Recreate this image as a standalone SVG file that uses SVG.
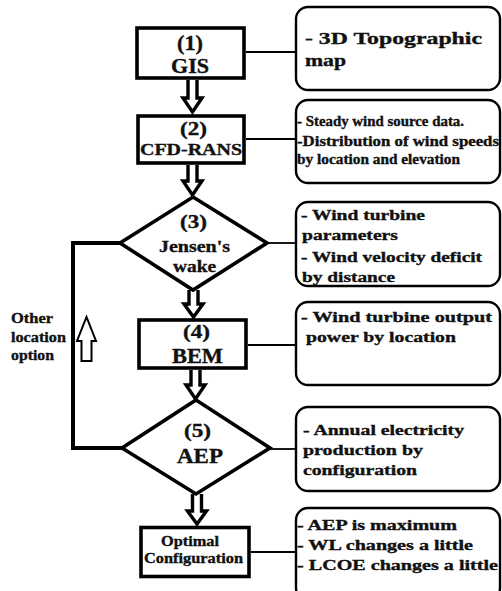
<svg xmlns="http://www.w3.org/2000/svg" width="502" height="591" viewBox="0 0 502 591" font-family="'Liberation Serif', 'Times New Roman', Times, serif" font-weight="bold">
<style>
text{fill:#111;stroke:#111;stroke-width:0.35}
.c{text-anchor:middle}
.box{fill:#fff;stroke:#000;stroke-width:3.6}
.note{fill:#fff;stroke:#000;stroke-width:2.4}
.link{fill:none;stroke:#000;stroke-width:1.8}
.loop{fill:none;stroke:#000;stroke-width:4}
.arr{fill:#fff;stroke:#000;stroke-width:3.4;stroke-linejoin:miter}
.up{fill:#fff;stroke:#000;stroke-width:2}
</style>
<rect width="502" height="591" fill="#fff"/>
<g id="connectors">
<polyline class="loop" points="120,243 73,243 73,448 122,448"/>
<line class="link" x1="246" y1="52" x2="296" y2="52"/>
<line class="link" x1="246" y1="139" x2="296" y2="139"/>
<line class="link" x1="267" y1="243" x2="296" y2="243"/>
<line class="link" x1="248" y1="345" x2="296" y2="345"/>
<line class="link" x1="270" y1="449" x2="296" y2="449"/>
<line class="link" x1="251" y1="552" x2="296" y2="552"/>
<polyline class="arr" points="188,80 188,98 183,98 192.5,112 202,98 197,98 197,80"/>
<polyline class="arr" points="188,165 188,181 183,181 192.5,195 202,181 197,181 197,165"/>
<polyline class="arr" points="189,290 189,304 184,304 193.5,317 203,304 198,304 198,290"/>
<polyline class="arr" points="191,370 191,385 186,385 195.5,399 205,385 200,385 200,370"/>
<polyline class="arr" points="192.5,494 192.5,511 187.5,511 197,524 206.5,511 201.5,511 201.5,494"/>
<polygon class="up" points="81.5,361 81.5,341 77,341 86.5,317 96,341 91.5,341 91.5,361"/>
</g>
<g id="n1">
<rect class="box" x="137" y="28" width="107" height="50"/>
<text class="c" x="190" y="50" font-size="20" textLength="26" lengthAdjust="spacingAndGlyphs">(1)</text>
<text class="c" x="190" y="73" font-size="20" textLength="38" lengthAdjust="spacingAndGlyphs">GIS</text>
</g>
<g id="n2">
<rect class="box" x="138" y="116" width="106" height="47"/>
<text class="c" x="193.5" y="135" font-size="19" textLength="27" lengthAdjust="spacingAndGlyphs">(2)</text>
<text class="c" x="191" y="155" font-size="17" textLength="102" lengthAdjust="spacingAndGlyphs">CFD-RANS</text>
</g>
<g id="n3">
<polygon class="box" points="193,197 267,243 193,290 120,243"/>
<text class="c" x="193.5" y="228" font-size="19" textLength="27" lengthAdjust="spacingAndGlyphs">(3)</text>
<text class="c" x="194.5" y="252" font-size="17" textLength="71" lengthAdjust="spacingAndGlyphs">Jensen's</text>
<text class="c" x="194.5" y="272" font-size="17" textLength="43" lengthAdjust="spacingAndGlyphs">wake</text>
</g>
<g id="n4">
<rect class="box" x="139" y="320" width="107" height="48"/>
<text class="c" x="196.5" y="338" font-size="19" textLength="27" lengthAdjust="spacingAndGlyphs">(4)</text>
<text class="c" x="197.5" y="363" font-size="20" textLength="51" lengthAdjust="spacingAndGlyphs">BEM</text>
</g>
<g id="n5">
<polygon class="box" points="196,400 270,448 196,494 122,448"/>
<text class="c" x="197.5" y="437" font-size="19" textLength="27" lengthAdjust="spacingAndGlyphs">(5)</text>
<text class="c" x="200" y="463" font-size="20" textLength="46" lengthAdjust="spacingAndGlyphs">AEP</text>
</g>
<g id="n6">
<rect class="box" x="141" y="527.5" width="108" height="49"/>
<text class="c" x="190" y="546" font-size="15" textLength="58" lengthAdjust="spacingAndGlyphs">Optimal</text>
<text class="c" x="193.5" y="563" font-size="15" textLength="99" lengthAdjust="spacingAndGlyphs">Configuration</text>
</g>
<g id="loop-label">
<text x="11" y="323" font-size="15" textLength="42" lengthAdjust="spacingAndGlyphs">Other</text>
<text x="11" y="342" font-size="15" textLength="55" lengthAdjust="spacingAndGlyphs">location</text>
<text x="11" y="360" font-size="15" textLength="43" lengthAdjust="spacingAndGlyphs">option</text>
</g>
<g id="r1">
<rect class="note" x="296" y="7" width="204" height="83" rx="12"/>
<text x="305" y="44" font-size="17" textLength="177" lengthAdjust="spacingAndGlyphs">- 3D Topographic</text>
<text x="305" y="66" font-size="17" textLength="41" lengthAdjust="spacingAndGlyphs">map</text>
</g>
<g id="r2">
<rect class="note" x="296" y="100" width="204" height="83" rx="12"/>
<text x="297" y="126" font-size="14" textLength="167" lengthAdjust="spacingAndGlyphs">- Steady wind source data.</text>
<text x="297" y="146" font-size="14" textLength="202" lengthAdjust="spacingAndGlyphs">-Distribution of wind speeds</text>
<text x="297" y="164" font-size="14" textLength="163" lengthAdjust="spacingAndGlyphs">by location and elevation</text>
</g>
<g id="r3">
<rect class="note" x="296" y="202" width="204" height="84" rx="12"/>
<text x="301" y="220" font-size="15" textLength="124" lengthAdjust="spacingAndGlyphs">- Wind turbine</text>
<text x="302" y="240" font-size="15" textLength="96" lengthAdjust="spacingAndGlyphs">parameters</text>
<text x="301" y="262" font-size="15" textLength="181" lengthAdjust="spacingAndGlyphs">- Wind velocity deficit</text>
<text x="302" y="282" font-size="15" textLength="93" lengthAdjust="spacingAndGlyphs">by distance</text>
</g>
<g id="r4">
<rect class="note" x="296" y="302" width="204" height="83" rx="12"/>
<text x="301" y="322" font-size="15" textLength="191" lengthAdjust="spacingAndGlyphs">- Wind turbine output</text>
<text x="306" y="342" font-size="15" textLength="150" lengthAdjust="spacingAndGlyphs">power by location</text>
</g>
<g id="r5">
<rect class="note" x="296" y="407" width="204" height="84" rx="12"/>
<text x="303" y="435" font-size="15" textLength="161" lengthAdjust="spacingAndGlyphs">- Annual electricity</text>
<text x="303" y="455" font-size="15" textLength="120" lengthAdjust="spacingAndGlyphs">production by</text>
<text x="303" y="475" font-size="15" textLength="114" lengthAdjust="spacingAndGlyphs">configuration</text>
</g>
<g id="r6">
<rect class="note" x="296" y="508" width="204" height="92" rx="12"/>
<text x="297" y="530" font-size="15" textLength="160" lengthAdjust="spacingAndGlyphs">- AEP is maximum</text>
<text x="297" y="550" font-size="15" textLength="176" lengthAdjust="spacingAndGlyphs">- WL changes a little</text>
<text x="297" y="570" font-size="15" textLength="201" lengthAdjust="spacingAndGlyphs">- LCOE changes a little</text>
</g>
</svg>
